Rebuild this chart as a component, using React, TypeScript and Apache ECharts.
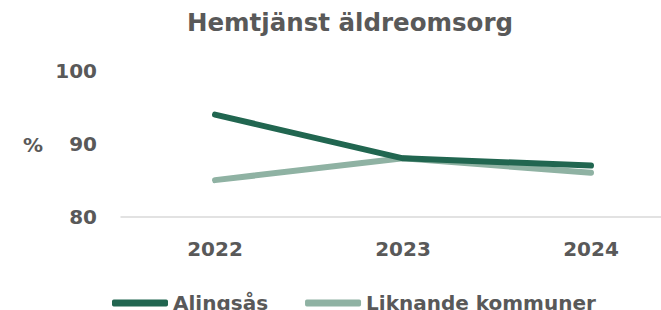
import React, { useEffect, useRef } from "react";
import * as echarts from "echarts";

const categories = ["2022", "2023", "2024"];
const alingsas = [94, 88, 87];
const liknande = [85, 88, 86];
const seriesNames = ["Alingsås", "Liknande kommuner"];
const titleText = "Hemtjänst äldreomsorg";
const unitLabel = "%";

const GRAY = "#595959";
const DARK = "#216650";
const LIGHT = "#8fb2a3";
const FONT = "DejaVu Sans";

export default function App() {
  const ref = useRef<HTMLDivElement>(null);
  useEffect(() => {
    if (!ref.current) return;
    const chart = echarts.init(ref.current, null, { renderer: "svg" });
    chart.setOption({
      animation: false,
      backgroundColor: "#ffffff",
      title: {
        text: titleText,
        left: "center",
        top: 5,
        textStyle: { fontFamily: FONT, fontWeight: "bold", fontSize: 24.5, color: GRAY },
      },
      graphic: [
        {
          type: "text",
          x: 33,
          y: 145,
          style: {
            text: unitLabel,
            fontFamily: FONT,
            fontWeight: "bold",
            fontSize: 20,
            fill: GRAY,
            align: "center",
            verticalAlign: "middle",
          },
        },
      ],
      legend: {
        data: seriesNames,
        left: 107,
        top: 288,
        icon: "roundRect",
        itemWidth: 56,
        itemHeight: 7,
        itemGap: 37,
        textStyle: { fontFamily: FONT, fontWeight: "bold", fontSize: 20, color: GRAY },
      },
      grid: { left: 121, top: 71, width: 564, height: 145.5, containLabel: false },
      xAxis: {
        type: "category",
        data: categories,
        boundaryGap: true,
        axisLine: { show: true, lineStyle: { color: "#d9d9d9", width: 1.5 } },
        axisTick: { show: false },
        axisLabel: { fontFamily: FONT, fontWeight: "bold", fontSize: 20, color: GRAY, margin: 22 },
        splitLine: { show: false },
      },
      yAxis: {
        type: "value",
        min: 80,
        max: 100,
        interval: 10,
        axisLine: { show: false },
        axisTick: { show: false },
        splitLine: { show: false },
        axisLabel: { fontFamily: FONT, fontWeight: "bold", fontSize: 20, color: GRAY, margin: 24 },
      },
      series: [
        {
          name: seriesNames[0],
          type: "line",
          data: alingsas,
          symbol: "none",
          z: 3,
          itemStyle: { color: DARK },
          lineStyle: { color: DARK, width: 6, cap: "round", join: "round" },
        },
        {
          name: seriesNames[1],
          type: "line",
          data: liknande,
          symbol: "none",
          z: 2,
          itemStyle: { color: LIGHT },
          lineStyle: { color: LIGHT, width: 6, cap: "round", join: "round" },
        },
      ],
    });
    return () => chart.dispose();
  }, []);
  return (
    <div
      style={{
        position: "fixed",
        left: 0,
        top: 0,
        width: 661,
        height: 310,
        overflow: "hidden",
        background: "#fff",
      }}
    >
      <div ref={ref} style={{ width: 700, height: 310 }} />
    </div>
  );
}
